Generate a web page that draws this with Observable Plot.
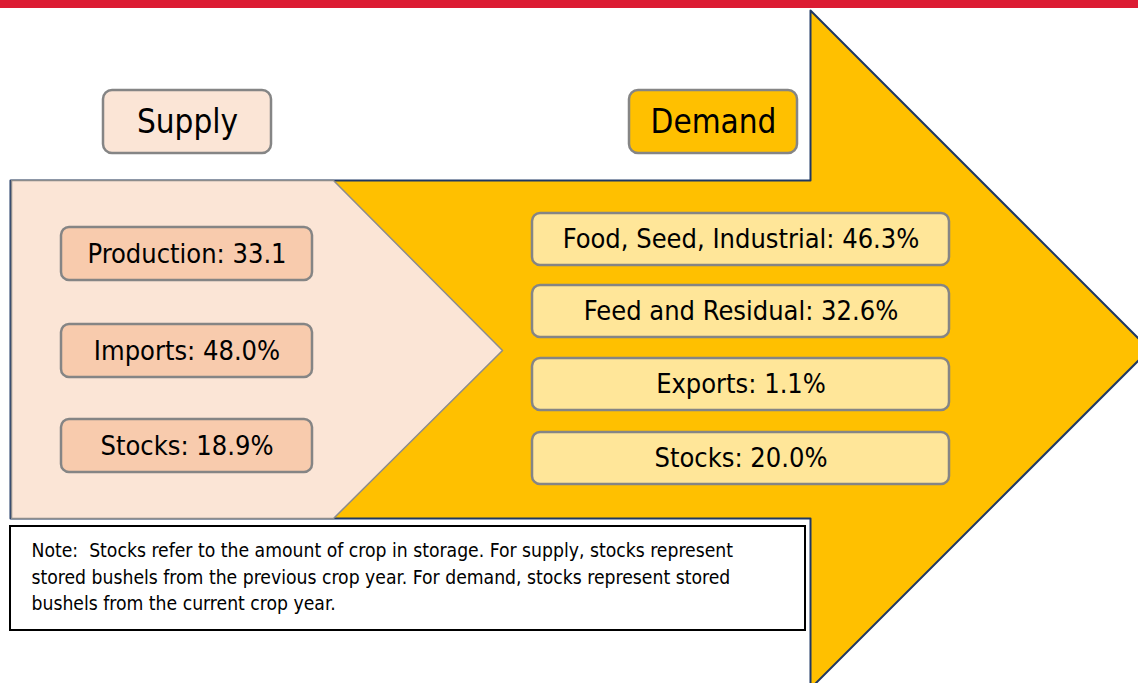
<!DOCTYPE html>
<html><head><meta charset="utf-8">
<script src="https://cdn.jsdelivr.net/npm/d3@7"></script>
<script src="https://cdn.jsdelivr.net/npm/@observablehq/plot@0.6"></script>
<style>html,body{margin:0;padding:0;background:#fff;overflow:hidden}</style>
</head><body><div id="chart"></div>
<script>
// ---- data ----
const sideTitles = ["Supply", "Demand"];
const supplyCategories = ["Production", "Imports", "Stocks"];
const supplyValues = [33.1, 48.0, 18.9];
const supplyUnits = ["", "%", "%"];
const demandCategories = ["Food, Seed, Industrial", "Feed and Residual", "Exports", "Stocks"];
const demandValues = [46.3, 32.6, 1.1, 20.0];
const demandUnits = ["%", "%", "%", "%"];
const noteLines = [
  "Note:  Stocks refer to the amount of crop in storage. For supply, stocks represent",
  "stored bushels from the previous crop year. For demand, stocks represent stored",
  "bushels from the current crop year."
];

// ---- layout ----
const W = 1138, H = 683;
const boxFont = "'DejaVu Sans Condensed', 'DejaVu Sans', sans-serif";
const noteFont = "'Liberation Sans Narrow', 'DejaVu Sans Condensed', sans-serif";
const fmt = d3.format(".1f");

const arrowPts = [[10,180],[810,180],[810,10],[1149,349],[810,688],[810,518],[10,518]];
const chevronPts = [[11,180],[333,180],[502,350],[333,518],[11,518]];

const titleBoxes = sideTitles.map((t, i) => ({
  text: t, x1: i === 0 ? 103 : 629, x2: i === 0 ? 271 : 797, y1: 90, y2: 153,
  fill: i === 0 ? "#FBE5D6" : "#FFC000"
}));
const supplyTops = [227, 324, 419];
const supplyBoxes = supplyCategories.map((c, i) => ({
  text: `${c}: ${fmt(supplyValues[i])}${supplyUnits[i]}`,
  x1: 61, x2: 312, y1: supplyTops[i], y2: supplyTops[i] + 53
}));
const demandTops = [213, 285, 358, 432];
const demandBoxes = demandCategories.map((c, i) => ({
  text: `${c}: ${fmt(demandValues[i])}${demandUnits[i]}`,
  x1: 532, x2: 949, y1: demandTops[i], y2: demandTops[i] + 52
}));
const noteY = [550, 577, 603];
const notes = noteLines.map((t, i) => ({text: t, y: noteY[i]}));

const chart = Plot.plot({
  width: W, height: H, margin: 0,
  x: {domain: [0, W], range: [0, W], axis: null},
  y: {domain: [0, H], range: [0, H], axis: null},
  style: {background: "white", overflow: "hidden"},
  marks: [
    Plot.rect([0], {x1: 0, x2: W, y1: 0, y2: 8, fill: "#DC1C33"}),
    Plot.line(arrowPts, {x: d => d[0], y: d => d[1], curve: "linear-closed", fill: "#FFC000", stroke: "#1F3864", strokeWidth: 2}),
    Plot.line(chevronPts, {x: d => d[0], y: d => d[1], curve: "linear-closed", fill: "#FBE5D6", stroke: "#8C8C8C", strokeWidth: 1.5}),
    Plot.rect(titleBoxes, {x1: "x1", x2: "x2", y1: "y1", y2: "y2", rx: 9, fill: "fill", stroke: "#858585", strokeWidth: 2.5}),
    Plot.text(titleBoxes, {x: d => (d.x1 + d.x2) / 2, y: d => (d.y1 + d.y2) / 2, text: "text", fontSize: 33, fontFamily: boxFont, fill: "black"}),
    Plot.rect(supplyBoxes, {x1: "x1", x2: "x2", y1: "y1", y2: "y2", rx: 8, fill: "#F8CBAD", stroke: "#858585", strokeWidth: 2.5}),
    Plot.text(supplyBoxes, {x: d => (d.x1 + d.x2) / 2, y: d => (d.y1 + d.y2) / 2, text: "text", fontSize: 27, fontFamily: boxFont, fill: "black"}),
    Plot.rect(demandBoxes, {x1: "x1", x2: "x2", y1: "y1", y2: "y2", rx: 8, fill: "#FFE699", stroke: "#858585", strokeWidth: 2.5}),
    Plot.text(demandBoxes, {x: d => (d.x1 + d.x2) / 2, y: d => (d.y1 + d.y2) / 2, text: "text", fontSize: 27, fontFamily: boxFont, fill: "black"}),
    Plot.rect([0], {x1: 10, x2: 805, y1: 526, y2: 630, fill: "white", stroke: "black", strokeWidth: 2}),
    Plot.text(notes, {x: 31, y: "y", text: "text", textAnchor: "start", fontSize: 19.2, fontFamily: noteFont, fill: "black"})
  ]
});
document.getElementById("chart").appendChild(chart);
</script>
</body></html>
